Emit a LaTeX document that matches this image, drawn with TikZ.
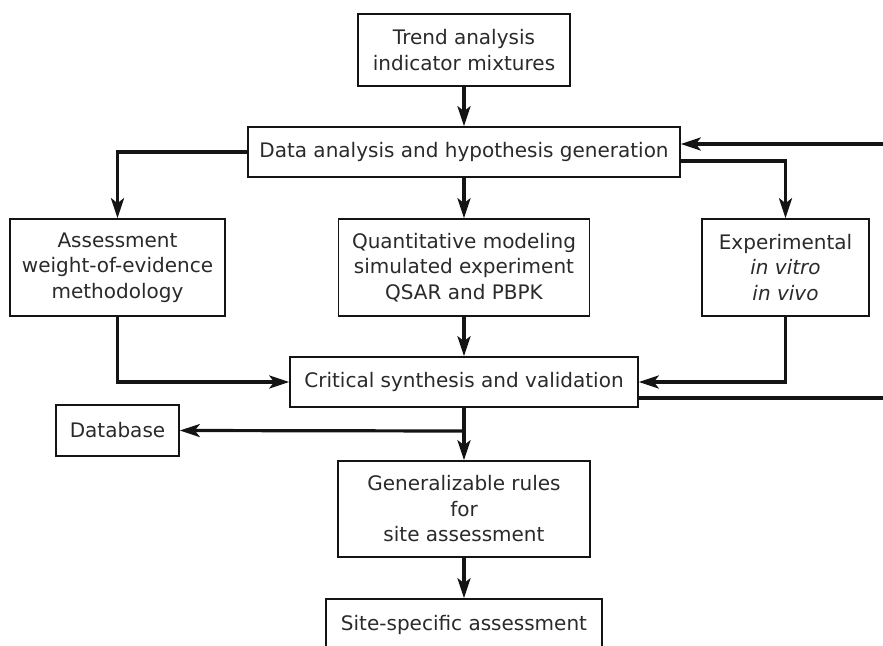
\documentclass[tikz,border=0pt]{standalone}
\usepackage{fontspec}
\setmainfont{DejaVu Sans}
\usetikzlibrary{arrows.meta}
\definecolor{ink}{HTML}{141414}
\definecolor{txt}{HTML}{2A2A2A}
\begin{document}
\begin{tikzpicture}[x=1pt,y=-1pt,
  box/.style={draw=ink, line width=1.6pt, fill=white, text=txt, align=center,
    inner sep=0pt, font=\fontsize{20}{25.5}\selectfont},
  link/.style={draw=ink, line width=3.2pt},
  flow/.style={link, -{Stealth[length=20pt,width=13pt,inset=5pt]}}]
\useasboundingbox (0,0) rectangle (883,645);
\begin{scope}
\clip (0,0) rectangle (883,645);
% boxes
\node[box, minimum width=212pt, minimum height=72pt] (trend) at (464,50)
  {Trend analysis\\indicator mixtures};
\node[box, minimum width=432pt, minimum height=50pt] (data) at (464,152)
  {Data analysis and hypothesis generation};
\node[box, minimum width=215pt, minimum height=97pt] (assess) at (117.5,267.5)
  {Assessment\\weight-of-evidence\\methodology};
\node[box, minimum width=251pt, minimum height=97pt] (quant) at (464,267.5)
  {Quantitative modeling\\simulated experiment\\QSAR and PBPK};
\node[box, minimum width=167pt, minimum height=97pt] (exper) at (785.5,267.5)
  {Experimental\\\textit{in vitro}\\\textit{in vivo}};
\node[box, minimum width=348pt, minimum height=50pt] (crit) at (464,382)
  {Critical synthesis and validation};
\node[box, minimum width=123pt, minimum height=51pt] (dbase) at (117.5,430.5)
  {Database};
\node[box, minimum width=252pt, minimum height=96pt] (rules) at (464,509)
  {Generalizable rules\\for\\site assessment};
\node[box, minimum width=276pt, minimum height=52pt] (site) at (464,625)
  {Site-specific assessment};
% free ends at the right margin
\coordinate (fbin) at (883,144);
\coordinate (fbout) at (883,398);
\coordinate (split) at (464,431);
% connectors
\draw[flow] (trend.south) -- (data.north);
\draw[flow] (data.west) -| (assess.north);
\draw[flow] (data.south) -- (quant.north);
\draw[flow] ([yshift=-9pt]data.east) -| (exper.north);
\draw[flow] (fbin) -- (fbin -| data.east);
\draw[flow] (assess.south) |- (crit.west);
\draw[flow] (quant.south) -- (crit.north);
\draw[flow] (exper.south) |- (crit.east);
\draw[link] ([yshift=-16pt]crit.east) -- (fbout);
\draw[flow] (crit.south) -- (rules.north);
\draw[flow] (split) -- (dbase.east);
\draw[flow] (rules.south) -- (site.north);
\end{scope}
\end{tikzpicture}
\end{document}
